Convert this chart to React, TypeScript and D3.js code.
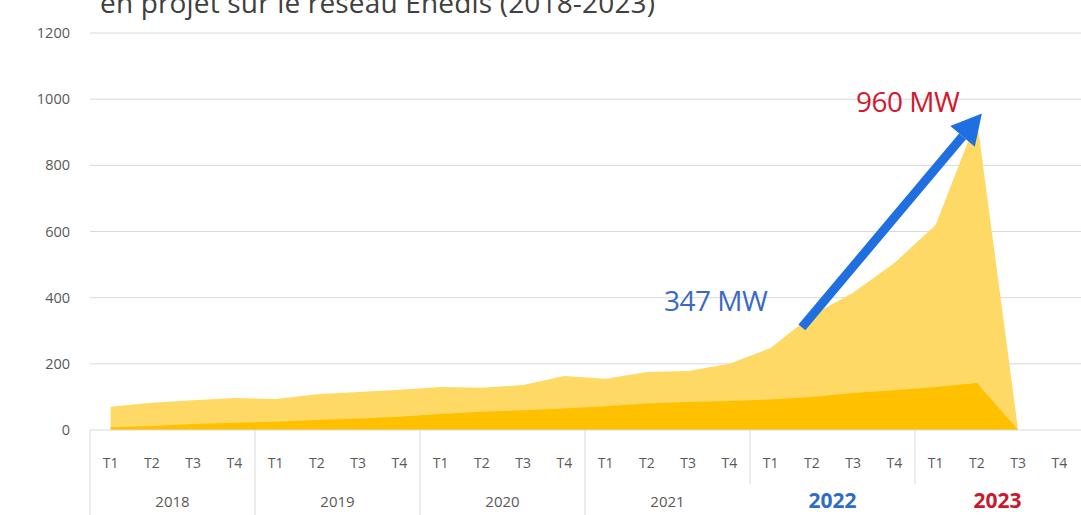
import * as d3 from 'd3';
import React from 'react';

const years = ['2018', '2019', '2020', '2021', '2022', '2023']
const quarters = ['T1', 'T2', 'T3', 'T4']
// total (light area) and base part (dark area), per quarter, 2018 T1 -> 2023 T3
const totalMW = [70, 82, 90, 97, 94, 108, 115, 122, 130, 128, 136, 163, 155, 175, 178, 200, 248, 347, 415, 505, 620, 940, 0]
const baseMW = [8, 12, 18, 22, 25, 30, 35, 40, 48, 55, 60, 65, 72, 80, 85, 88, 92, 100, 112, 120, 130, 142, 0]
const yTicks = [0, 200, 400, 600, 800, 1000, 1200]

const W = 1081
const H = 515
const left = 90
const right = 1080
const top = 33
const zeroY = 430

export default function App() {
    const cats = years.flatMap(y => quarters.map(q => y + '-' + q))

    const x = d3.scaleBand()
        .domain(cats)
        .range([left, right])
        .padding(0)

    const y = d3.scaleLinear()
        .domain([0, 1200])
        .range([zeroY, top])

    const cx = (i) => x(cats[i]) + x.bandwidth() / 2

    const area = d3.area()
        .x((d, i) => cx(i))
        .y0(y(0))
        .y1(d => y(d))

    const yearW = x.bandwidth() * 4
    const font = '"Open Sans", sans-serif'

    // arrow from 2022 T2 to 2023 T2
    const ax0 = cx(17) - 10, ay0 = y(310)
    const ax1 = cx(21) + 5, ay1 = y(957)
    const ang = Math.atan2(ay1 - ay0, ax1 - ax0)
    const headL = 30, headW = 16
    const bx = ax1 - headL * Math.cos(ang), by = ay1 - headL * Math.sin(ang)
    const px = -Math.sin(ang), py = Math.cos(ang)

    return (
        <svg width={W} height={H} style={{ position: 'absolute', left: 0, top: 0, background: '#fff' }}>
            <text x={100} y={13} fontFamily={font} fontSize={28} fill="#404040" textLength={555}>
                en projet sur le réseau Enedis (2018-2023)
            </text>

            {yTicks.map(t => (
                <g key={t}>
                    {t > 0 && <line x1={left} x2={W} y1={y(t)} y2={y(t)} stroke="#d9d9d9" strokeWidth={1} />}
                    <text x={70} y={y(t)} dy="0.35em" textAnchor="end" fontFamily={font} fontSize={14.5} fill="#595959">{t}</text>
                </g>
            ))}

            <path d={area(totalMW)} fill="#FFD966" />
            <path d={area(baseMW)} fill="#FFC000" />

            <line x1={left} x2={W} y1={zeroY} y2={zeroY} stroke="#d9d9d9" />
            {years.map((yr, i) => (
                <line key={yr} x1={left + i * yearW} x2={left + i * yearW} y1={zeroY} y2={H} stroke="#d9d9d9" />
            ))}

            {cats.map(c => (
                <text key={c} x={x(c) + x.bandwidth() / 2} y={463} dy="0.35em" textAnchor="middle"
                    fontFamily={font} fontSize={14} fill="#595959">{c.split('-')[1]}</text>
            ))}

            {years.map((yr, i) => {
                const mid = left + i * yearW + yearW / 2
                if (yr === '2022' || yr === '2023') {
                    return (
                        <g key={yr}>
                            <rect x={left + i * yearW - 2} y={484} width={yearW + 4} height={H - 484} fill="#fff" />
                            <text x={mid} y={501} dy="0.35em" textAnchor="middle" fontFamily={font} fontSize={21}
                                fontWeight="bold" fill={yr === '2022' ? '#2f6cc4' : '#c8192e'}>{yr}</text>
                        </g>
                    )
                }
                return (
                    <text key={yr} x={mid} y={502} dy="0.35em" textAnchor="middle" fontFamily={font} fontSize={15} fill="#595959">{yr}</text>
                )
            })}

            <line x1={ax0} y1={ay0} x2={bx} y2={by} stroke="#1f6fe0" strokeWidth={9} />
            <polygon fill="#1f6fe0"
                points={`${ax1},${ay1} ${bx + px * headW},${by + py * headW} ${bx - px * headW},${by - py * headW}`} />

            <text x={664} y={311} fontFamily={font} fontSize={28} fill="#3a6bc4" letterSpacing={-0.5}>347 MW</text>
            <text x={856} y={112} fontFamily={font} fontSize={28} fill="#d0192f" letterSpacing={-0.5}>960 MW</text>
        </svg>
    )
}
